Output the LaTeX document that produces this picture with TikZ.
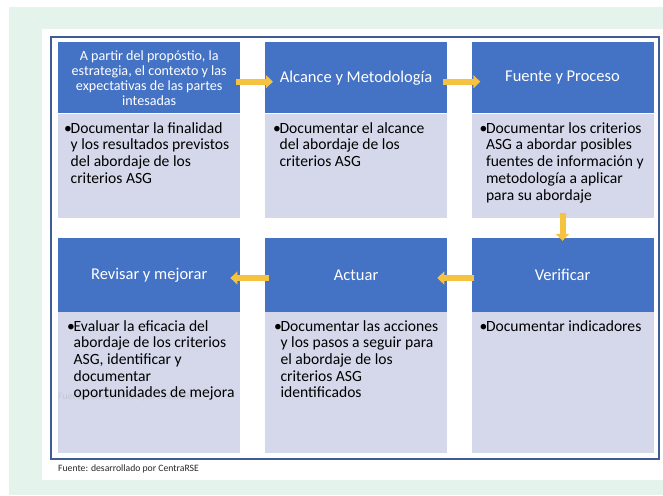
\documentclass[tikz,border=0pt]{standalone}
\usepackage{fontspec}
\setmainfont{Carlito}
\usetikzlibrary{positioning,arrows.meta}
\definecolor{azulCab}{RGB}{68,114,196}
\definecolor{lilaDoc}{RGB}{212,216,234}
\definecolor{verdeFondo}{RGB}{228,243,236}
\definecolor{amarilloFlecha}{RGB}{245,194,66}
\definecolor{azulMarco}{RGB}{64,92,150}
\newcommand{\vineta}[1]{\begin{tabular}[t]{@{}p{6.5pt}@{}l@{}}•&\begin{tabular}[t]{@{}l@{}}#1\end{tabular}\end{tabular}}

\begin{document}
\begin{tikzpicture}[x=1pt, y=-1pt, node distance=0pt]
  \tikzset{
    cabecera/.style={fill=azulCab, text=white, minimum width=182pt, minimum height=71pt,
      inner sep=2pt, align=center, font=\fontsize{16.5}{19}\selectfont},
    cuerpo/.style={fill=lilaDoc, minimum width=182pt, minimum height=104pt, inner sep=0pt},
    texto/.style={anchor=north west, inner sep=0pt, font=\fontsize{15.6}{16.7}\selectfont},
    nota/.style={anchor=west, inner sep=0pt, font=\fontsize{9.7}{11}\selectfont},
    flecha/.style={draw=amarilloFlecha, line width=6pt, -{Triangle[width=13pt,length=7pt]}}
  }
  \useasboundingbox (0,0) rectangle (663,495);
  \fill[verdeFondo] (9,7) rectangle (663,495);
  \fill[white] (42,29) rectangle (663,480);
  \draw[azulMarco, line width=1.5pt] (51,37) rectangle (659,459);

  % fila superior
  \node[cabecera, anchor=north west, font=\fontsize{14.1}{15}\selectfont] (proposito) at (58,42)
    {A partir del propóstio, la\\estrategia, el contexto y las\\expectativas de las partes\\intesadas};
  \node[cabecera, right=24.5pt of proposito] (alcance) {Alcance y Metodología};
  \node[cabecera, right=24pt of alcance] (fuente) {Fuente y Proceso};
  \node[cuerpo, below=of proposito] (propositoDoc) {};
  \node[cuerpo, below=of alcance] (alcanceDoc) {};
  \node[cuerpo, below=of fuente] (fuenteDoc) {};

  % fila inferior
  \node[cabecera, minimum height=74pt, below=20pt of propositoDoc] (revisar) {Revisar y mejorar};
  \node[cabecera, minimum height=74pt, below=20pt of alcanceDoc] (actuar) {Actuar};
  \node[cabecera, minimum height=74pt, below=20pt of fuenteDoc] (verificar) {Verificar};
  \node[cuerpo, minimum height=141pt, below=of revisar] (revisarDoc) {};
  \node[cuerpo, minimum height=141pt, below=of actuar] (actuarDoc) {};
  \node[cuerpo, minimum height=141pt, below=of verificar] (verificarDoc) {};

  \node[nota, text=lilaDoc!80!gray] (marcaAgua) at (58,397) {Fuente: desarrollado por CentraRSE};

  % textos
  \node[texto] (propositoTxt) at ([shift={(6pt,-8pt)}]propositoDoc.north west)
    {\vineta{Documentar la finalidad\\y los resultados previstos\\del abordaje de los\\criterios ASG}};
  \node[texto] (alcanceTxt) at ([shift={(8pt,-8pt)}]alcanceDoc.north west)
    {\vineta{Documentar el alcance\\del abordaje de los\\criterios ASG}};
  \node[texto] (fuenteTxt) at ([shift={(8pt,-8pt)}]fuenteDoc.north west)
    {\vineta{Documentar los criterios\\ASG a abordar posibles\\fuentes de información y\\metodología a aplicar\\para su abordaje}};
  \node[texto] (revisarTxt) at ([shift={(9pt,-7pt)}]revisarDoc.north west)
    {\vineta{Evaluar la eficacia del\\abordaje de los criterios\\ASG, identificar y\\documentar\\oportunidades de mejora}};
  \node[texto] (actuarTxt) at ([shift={(9pt,-7pt)}]actuarDoc.north west)
    {\vineta{Documentar las acciones\\y los pasos a seguir para\\el abordaje de los\\criterios ASG\\identificados}};
  \node[texto] (verificarTxt) at ([shift={(8pt,-7pt)}]verificarDoc.north west)
    {\vineta{Documentar indicadores}};

  % flechas
  \draw[flecha] ([xshift=-4pt,yshift=-4pt]proposito.east) -- ([xshift=8pt,yshift=-4pt]alcance.west);
  \draw[flecha] ([xshift=-4pt,yshift=-4pt]alcance.east) -- ([xshift=9pt,yshift=-4pt]fuente.west);
  \draw[flecha] ([yshift=5pt]fuenteDoc.south) -- ([yshift=-3pt]verificar.north);
  \draw[flecha] ([xshift=3pt,yshift=-3pt]verificar.west) -- ([xshift=-10pt,yshift=-3pt]actuar.east);
  \draw[flecha] ([xshift=4pt,yshift=-3pt]actuar.west) -- ([xshift=-10pt,yshift=-3pt]revisar.east);

  \node[nota, text=black!85] (fuenteNota) at (58,469) {Fuente: desarrollado por CentraRSE};
\end{tikzpicture}
\end{document}
